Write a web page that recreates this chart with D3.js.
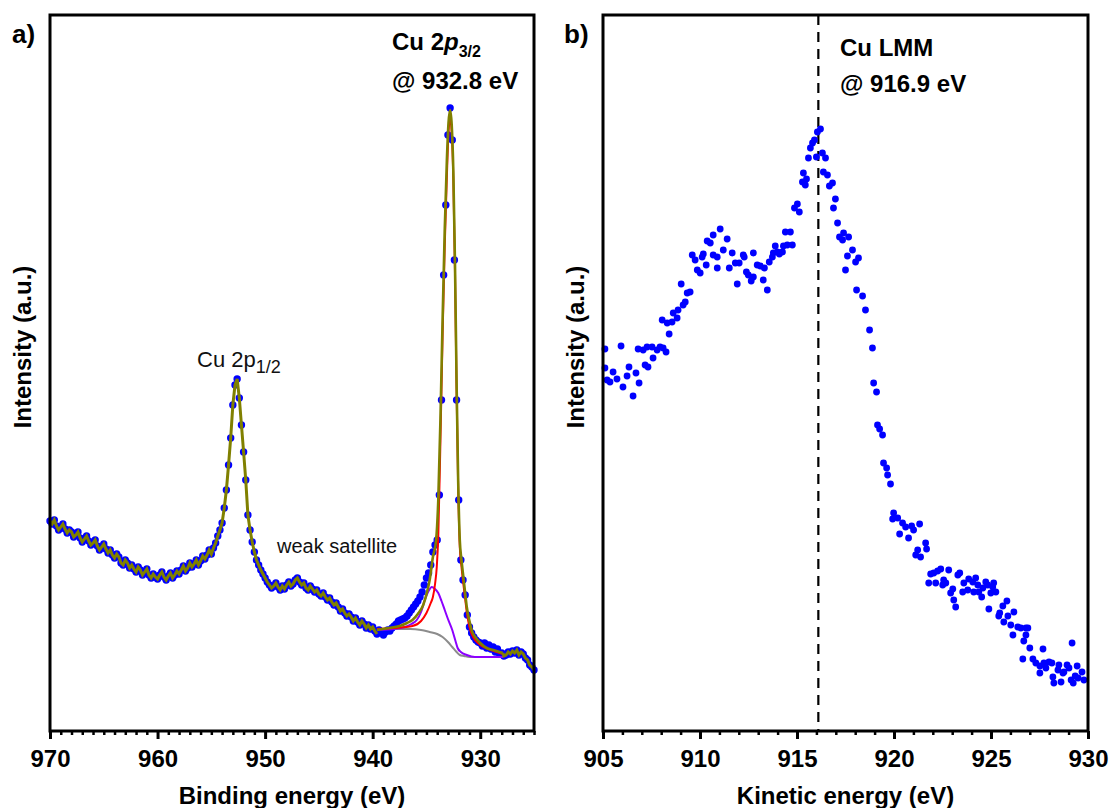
<!DOCTYPE html>
<html>
<head>
<meta charset="utf-8">
<script src="https://cdn.jsdelivr.net/npm/d3@7"></script>
<style>
body { margin: 0; background: #fff; }
svg text { font-family: "Liberation Sans", Arial, sans-serif; }
</style>
</head>
<body>
<script>
"use strict";
// ---- panel a: Cu 2p spectrum, binding energy grid 970 -> 925 eV, step 0.2 eV
const beStart = 970, beStep = 0.2;
const cu2pCounts = [
	210, 207, 211, 205, 201, 204, 207, 202, 198, 201,
	199, 194, 196, 199, 193, 189, 192, 195, 190, 186,
	188, 191, 185, 181, 184, 187, 182, 178, 181, 176,
	173, 177, 174, 168, 166, 171, 168, 163, 166, 162,
	159, 164, 161, 156, 159, 162, 156, 153, 157, 154,
	152, 156, 159, 154, 151, 155, 158, 153, 156, 160,
	157, 161, 165, 160, 163, 168, 164, 167, 171, 166,
	170, 175, 172, 176, 181, 177, 183, 188, 195, 201,
	208, 223, 241, 266, 293, 326, 346, 352, 333, 306,
	279, 251, 216, 201, 189, 179, 171, 166, 161, 157,
	153, 149, 146, 143, 145, 148, 144, 141, 145, 142,
	146, 149, 145, 147, 151, 153, 149, 146, 148, 143,
	141, 145, 142, 139, 141, 137, 135, 138, 134, 131,
	133, 129, 126, 128, 124, 120, 122, 118, 115, 117,
	114, 110, 113, 109, 106, 110, 107, 103, 106, 102,
	104, 100, 97, 101, 99, 96, 99, 101, 100, 103,
	105, 107, 110, 111, 112, 113, 115, 118, 121, 124,
	127, 130, 134, 139, 146, 153, 158, 166, 179, 186,
	191, 236, 331, 456, 526, 596, 623, 591, 471, 331,
	231, 171, 151, 136, 116, 104, 98, 94, 91, 89,
	88, 85, 88, 83, 86, 82, 84, 79, 82, 77,
	78, 75, 76, 79, 77, 80, 78, 81, 76, 79,
	77, 73, 71, 66, 64, 61
];
// fitted components [binding energy, intensity]
const fitBackground = [[939.6,102],[938.0,102],[936.5,102],[935.5,101],[934.7,99],[934.0,97],[933.5,94],[933.0,89],[932.6,84],[932.2,79],[931.9,76],[931.5,75],[931.0,74],[930.0,74],[927.9,74]];
const fitShoulder = [[939.6,101],[938.0,102],[937.0,104],[936.4,107],[935.9,111],[935.5,119],[935.15,131],[934.8,140],[934.5,144],[934.2,142],[933.9,138],[933.6,130],[933.3,121],[933.0,112],[932.6,101],[932.3,90],[932.1,83],[931.8,79],[931.25,76],[930.5,74],[927.9,74]];
const fitMain = [[939.6,102],[938.0,103],[936.3,105],[935.5,110],[935.0,118],[934.6,128],[934.4,134],[934.2,147],[934.04,164],[933.9,195],[933.7,290],[933.5,395],[933.3,485],[933.1,555],[932.95,598],[932.8,612],[932.65,598],[932.5,552],[932.35,462],[932.2,342],[932.05,243],[931.9,184],[931.75,165],[931.6,150],[931.4,132],[931.25,119],[931.0,104],[930.8,97],[930.4,90],[930.0,86],[929.0,81],[927.9,77]];
const fitEnvelope = [[939.6,101],[938.5,103],[937.5,105],[936.8,108],[936.3,111],[935.8,117],[935.3,126],[934.9,141],[934.7,151],[934.4,174],[934.1,191],[933.9,231],[933.7,311],[933.5,411],[933.3,501],[933.1,571],[932.95,608],[932.8,621],[932.65,606],[932.5,560],[932.35,470],[932.2,350],[932.05,250],[931.9,191],[931.75,172],[931.6,157],[931.4,138],[931.25,124],[931.0,110],[930.8,101],[930.4,93],[930.0,88],[929.4,83],[928.8,81],[927.9,78]];
const ticksA = [970, 960, 950, 940, 930];

// ---- panel b: Cu LMM Auger, kinetic energy
const kineticEnergy = [
	905.10,905.10,905.21,905.36,905.52,905.72,905.93,906.03,906.24,906.34,
	906.55,906.70,906.86,906.81,907.07,907.17,907.27,907.32,907.53,907.58,
	907.79,907.94,908.05,908.10,908.25,908.31,908.41,908.56,908.62,908.82,
	908.87,909.03,909.13,909.24,909.34,909.49,909.60,909.75,909.86,910.01,
	910.17,910.11,910.32,910.37,910.53,910.68,910.68,910.89,910.89,911.04,
	911.20,911.40,911.51,911.66,911.82,911.92,912.02,912.23,912.28,912.39,
	912.49,912.64,912.75,912.75,912.95,913.11,913.26,913.32,913.47,913.57,
	913.73,913.78,913.88,913.99,914.09,914.25,914.30,914.40,914.50,914.66,
	914.76,914.87,915.02,915.12,915.28,915.33,915.43,915.49,915.59,915.69,
	915.80,915.90,916.00,916.05,916.21,916.31,916.47,916.36,916.57,916.67,
	916.83,916.98,916.88,917.09,917.19,917.35,917.40,917.50,917.60,917.66,
	917.86,918.02,918.17,918.07,918.38,918.53,918.74,918.89,918.95,919.10,
	919.15,919.26,919.41,919.46,919.62,919.67,919.82,919.98,919.93,920.19,
	920.44,920.60,920.29,920.91,921.32,921.01,920.75,921.63,921.68,921.22,
	921.12,921.37,921.89,922.05,922.25,922.41,922.82,921.79,922.15,922.56,
	922.67,922.51,923.03,922.92,923.08,923.18,923.29,923.39,923.60,923.54,
	923.85,924.06,924.21,924.32,923.80,924.11,924.37,924.58,924.73,924.83,
	925.14,925.09,924.52,924.99,925.25,924.89,925.61,925.82,925.45,925.40,
	925.66,925.87,926.18,926.02,926.38,926.54,926.80,926.90,926.80,926.13,
	926.69,927.00,926.64,927.16,927.68,927.31,927.52,927.73,927.99,928.14,
	927.83,927.52,928.50,928.45,928.76,928.92,929.02,929.18,929.44,929.34,
	929.49,929.13,928.24,928.61,928.19,929.24,928.71,929.69,929.79
];
const lmmIntensity = [
	382,363,351,349,359,352,385,344,355,364,
	335,358,348,382,381,366,384,364,384,373,
	381,384,411,383,379,408,397,409,418,413,
	421,447,426,429,438,439,476,471,461,458,
	477,474,466,490,488,496,476,474,463,502,
	481,492,463,478,468,447,468,476,474,459,
	456,450,478,454,466,465,451,463,441,469,
	474,478,485,479,477,479,485,499,486,499,
	486,523,527,519,549,558,546,552,573,583,
	588,591,574,599,602,578,573,559,556,545,
	548,532,523,508,494,491,498,461,475,494,
	481,469,473,441,435,421,401,383,348,339,
	306,302,296,268,263,256,247,218,212,213,
	208,204,197,205,207,201,193,188,182,181,
	176,174,157,158,160,162,161,148,148,151,
	148,146,142,138,131,124,156,158,148,139,
	152,149,153,146,141,139,139,143,149,146,
	148,144,134,138,139,122,125,130,118,115,
	109,115,119,106,104,103,103,103,96,96,
	90,83,72,72,82,68,65,68,69,68,
	63,58,66,61,59,66,63,88,65,55,
	53,51,48,49,54,48,58,59,51
];
const lmmPeak = 916.1;
const ticksB = [905, 910, 915, 920, 925, 930];

const W = 1109, H = 808;
const plotTop = 15, plotBottom = 731;
const svg = d3.select("body").append("svg").attr("width", W).attr("height", H);

const y = d3.scaleLinear().domain([0, 716]).range([plotBottom, plotTop]);
const xA = d3.scaleLinear().domain([970, 925]).range([50, 534]);
const xB = d3.scaleLinear().domain([905, 930]).range([603, 1088]);

function frame(x) {
	const [x0, x1] = x.range();
	svg.append("rect").attr("x", x0).attr("y", plotTop).attr("width", x1 - x0).attr("height", plotBottom - plotTop)
		.attr("fill", "none").attr("stroke", "#000").attr("stroke-width", 3);
}

function axes(x, majors) {
	const d = x.domain();
	const lo = Math.min(d[0], d[1]), hi = Math.max(d[0], d[1]);
	const minors = d3.range(lo, hi + 1).filter(v => majors.indexOf(v) < 0);
	const gm = svg.append("g").attr("transform", "translate(0," + plotBottom + ")")
		.call(d3.axisBottom(x).tickValues(minors).tickSize(4).tickFormat(""));
	gm.select(".domain").remove();
	gm.selectAll("line").attr("stroke", "#000").attr("stroke-width", 2.5);
	const g = svg.append("g").attr("transform", "translate(0," + plotBottom + ")")
		.call(d3.axisBottom(x).tickValues(majors).tickSize(8).tickPadding(11).tickFormat(d3.format("d")));
	g.select(".domain").remove();
	g.selectAll("line").attr("stroke", "#000").attr("stroke-width", 3);
	g.selectAll("text").attr("fill", "#000").style("font-size", "24px").style("font-weight", "bold")
		.style("font-family", "'Liberation Sans', Arial, sans-serif");
}

function labels(x, title, tag, tagX) {
	const [x0, x1] = x.range();
	svg.append("text").attr("x", (x0 + x1) / 2).attr("y", 804).attr("text-anchor", "middle")
		.style("font-size", "24px").style("font-weight", "bold").text(title);
	svg.append("text").attr("transform", "translate(" + (x0 - 19) + ",347) rotate(-90)")
		.attr("text-anchor", "middle").style("font-size", "24px").style("font-weight", "bold")
		.text("Intensity (a.u.)");
	svg.append("text").attr("x", tagX).attr("y", 43).style("font-size", "26px").style("font-weight", "bold").text(tag);
}

// ---- panel a
const spec = cu2pCounts.map((c, i) => ({e: +(beStart - i * beStep).toFixed(1), c: c}));
const lineA = d3.line().x(d => xA(d[0])).y(d => y(d[1]));
const fitLine = d3.line().x(d => xA(d[0])).y(d => y(d[1])).curve(d3.curveMonotoneX);

svg.append("g").selectAll("circle").data(spec).enter().append("circle")
	.attr("cx", d => xA(d.e)).attr("cy", d => y(d.c)).attr("r", 3.7)
	.attr("fill", "#0000ff");

const fitHi = fitEnvelope[0][0], fitLo = fitEnvelope[fitEnvelope.length - 1][0];
const before = spec.filter(d => d.e >= fitHi).map(d => [d.e, d.c]);
const after = spec.filter(d => d.e < fitLo).map(d => [d.e, d.c]);

svg.append("path").attr("d", fitLine(fitBackground)).attr("fill", "none").attr("stroke", "#8c8c8c").attr("stroke-width", 2);
svg.append("path").attr("d", fitLine(fitShoulder)).attr("fill", "none").attr("stroke", "#8c00ff").attr("stroke-width", 2);
svg.append("path").attr("d", fitLine(fitMain)).attr("fill", "none").attr("stroke", "#ff0000").attr("stroke-width", 2);
svg.append("path").attr("d", lineA(before)).attr("fill", "none").attr("stroke", "#808000").attr("stroke-width", 3);
svg.append("path").attr("d", fitLine(fitEnvelope)).attr("fill", "none").attr("stroke", "#808000").attr("stroke-width", 2.6);
svg.append("path").attr("d", lineA([[fitLo, fitEnvelope[fitEnvelope.length - 1][1]]].concat(after))).attr("fill", "none").attr("stroke", "#808000").attr("stroke-width", 3);

frame(xA);
axes(xA, ticksA);
labels(xA, "Binding energy (eV)", "a)", 12);

const t1 = svg.append("text").attr("x", 392).attr("y", 50).style("font-size", "24px").style("font-weight", "bold");
t1.append("tspan").text("Cu 2");
t1.append("tspan").style("font-style", "italic").text("p");
t1.append("tspan").attr("dy", 7).style("font-size", "16px").text("3/2");
svg.append("text").attr("x", 392).attr("y", 89).style("font-size", "24px").style("font-weight", "bold").text("@ 932.8 eV");

const t2 = svg.append("text").attr("x", 197).attr("y", 367).style("font-size", "22px").attr("fill", "#111");
t2.append("tspan").text("Cu 2p");
t2.append("tspan").attr("dy", 6).style("font-size", "18px").text("1/2");
svg.append("text").attr("x", 277).attr("y", 553).style("font-size", "20px").attr("fill", "#111").text("weak satellite");

// ---- panel b
svg.append("line").attr("x1", xB(lmmPeak)).attr("x2", xB(lmmPeak)).attr("y1", plotTop).attr("y2", plotBottom)
	.attr("stroke", "#000").attr("stroke-width", 2.2).attr("stroke-dasharray", "10,7");

svg.append("g").selectAll("circle").data(kineticEnergy).enter().append("circle")
	.attr("cx", d => xB(d)).attr("cy", (d, i) => y(lmmIntensity[i])).attr("r", 3.4)
	.attr("fill", "#0000ff");

frame(xB);
axes(xB, ticksB);
labels(xB, "Kinetic energy (eV)", "b)", 564);

svg.append("text").attr("x", 840).attr("y", 56).style("font-size", "24px").style("font-weight", "bold").text("Cu LMM");
svg.append("text").attr("x", 840).attr("y", 92).style("font-size", "24px").style("font-weight", "bold").text("@ 916.9 eV");
</script>
</body>
</html>
